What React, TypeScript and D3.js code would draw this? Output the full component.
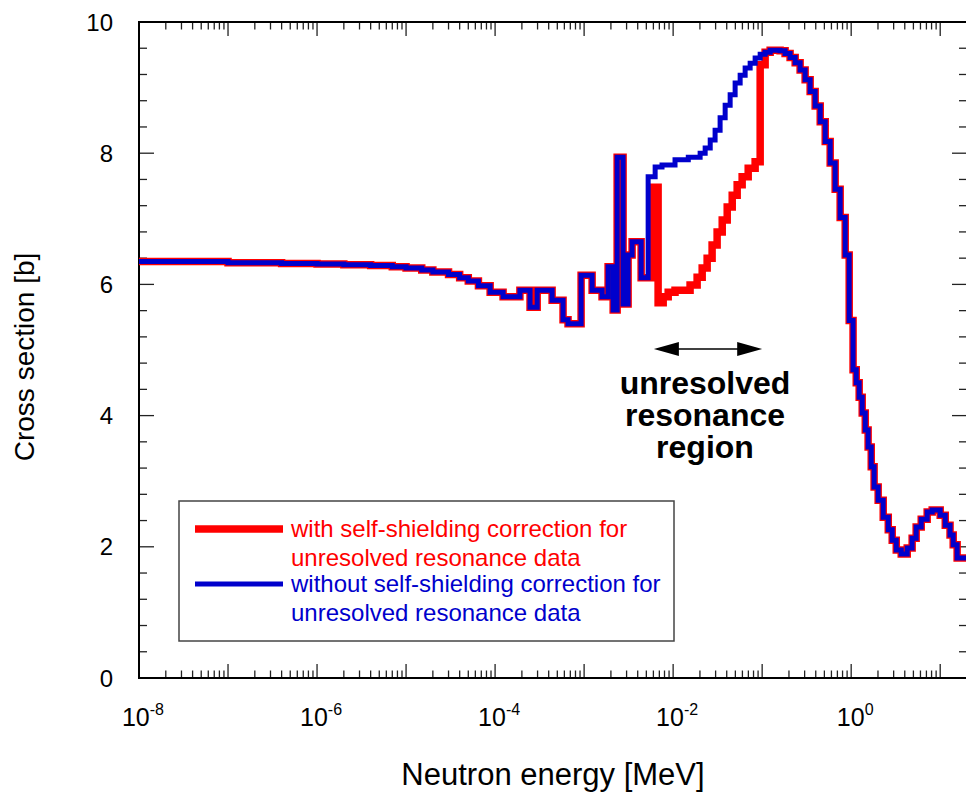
import React from "react";
import * as d3 from "d3";

// ---- data (energies in MeV, cross sections in barns); each value holds from its energy to the next ----
const energyLow = [1e-8, 1e-7, 4e-7, 1e-6, 2e-6, 4e-6, 7e-6, 1e-5, 1.5e-5, 2e-5, 3e-5, 4e-5, 5e-5, 6.5e-5, 8.8e-5, 1.23e-4, 1.9e-4, 2.47e-4, 2.97e-4, 4.37e-4, 5.8e-4, 6.6e-4, 9.25e-4, 1.23e-3, 1.59e-3, 1.86e-3, 2.12e-3, 2.35e-3, 2.74e-3, 3.12e-3, 3.46e-3, 4.37e-3];
const xsLow = [6.35, 6.33, 6.32, 6.31, 6.30, 6.29, 6.27, 6.25, 6.22, 6.19, 6.15, 6.10, 6.05, 5.98, 5.88, 5.81, 5.91, 5.65, 5.91, 5.76, 5.46, 5.40, 6.14, 5.91, 5.81, 6.27, 5.61, 7.94, 5.70, 6.45, 6.65, 6.10];

const energyUrrBlue = [5.24e-3, 6.28e-3, 7.5e-3, 1.05e-2, 1.48e-2, 2.01e-2, 2.29e-2, 2.61e-2, 2.96e-2, 3.37e-2, 3.84e-2, 4.37e-2, 4.97e-2, 5.66e-2, 6.44e-2, 7.33e-2, 8.34e-2, 9.5e-2];
const xsUrrBlue = [7.64, 7.79, 7.82, 7.90, 7.94, 8.00, 8.08, 8.20, 8.35, 8.54, 8.73, 8.89, 9.07, 9.19, 9.30, 9.37, 9.45, 9.51];

const energyUrrRed = [5.95e-3, 6.78e-3, 7.73e-3, 8.8e-3, 1.05e-2, 1.55e-2, 1.86e-2, 2.12e-2, 2.41e-2, 2.74e-2, 3.12e-2, 3.56e-2, 4.05e-2, 4.61e-2, 5.24e-2, 5.96e-2, 6.97e-2, 8.34e-2, 9.5e-2];
const xsUrrRed = [7.48, 5.72, 5.81, 5.88, 5.91, 5.99, 6.11, 6.25, 6.40, 6.60, 6.80, 6.98, 7.18, 7.36, 7.52, 7.64, 7.77, 7.87, 9.35];

const energyHigh = [0.108, 0.123, 0.14, 0.159, 0.181, 0.206, 0.235, 0.267, 0.304, 0.346, 0.394, 0.449, 0.511, 0.581, 0.661, 0.752, 0.857, 0.95, 1.05, 1.14, 1.23, 1.33, 1.44, 1.55, 1.68, 1.81, 2.01, 2.29, 2.61, 2.89, 3.21, 3.65, 4.26, 4.84, 5.37, 6.12, 7.14, 8.13, 10, 11.4, 12.9, 14.0, 15.5];
const xsHigh = [9.54, 9.57, 9.57, 9.56, 9.52, 9.46, 9.38, 9.27, 9.12, 8.94, 8.72, 8.48, 8.18, 7.85, 7.45, 7.02, 6.45, 5.45, 4.70, 4.50, 4.28, 4.04, 3.78, 3.52, 3.22, 2.91, 2.71, 2.45, 2.26, 2.10, 1.95, 1.89, 1.98, 2.13, 2.30, 2.42, 2.53, 2.56, 2.48, 2.33, 2.18, 2.03, 1.83];

const energyMax = 20;

const yTickValues = [0, 2, 4, 6, 8, 10];
const xLabelExponents = [-8, -6, -4, -2, 0];

const legendLabels = [
  ["with self-shielding correction for", "unresolved resonance data"],
  ["without self-shielding correction for", "unresolved resonance data"],
];
const annotationLines = ["unresolved", "resonance", "region"];
const urrBounds = [6.0e-3, 0.1];

const W = 966;
const H = 793;
const FONT = "'Liberation Sans', Arial, Helvetica, sans-serif";
const RED = "#ff0000";
const BLUE = "#0000cc";

type Pt = { e: number; v: number };

function buildSeries(parts: [number[], number[]][]): Pt[] {
  const pts: Pt[] = [];
  parts.forEach(([es, vs]) => es.forEach((e, i) => pts.push({ e, v: vs[i] })));
  pts.push({ e: energyMax, v: pts[pts.length - 1].v });
  return pts;
}

export default function App() {
  const x = d3.scaleLog().domain([1e-8, energyMax]).range([139, 967]);
  const y = d3.scaleLinear().domain([0, 10]).range([678, 22]);

  const red = buildSeries([[energyLow, xsLow], [energyUrrRed, xsUrrRed], [energyHigh, xsHigh]]);
  const blue = buildSeries([[energyLow, xsLow], [energyUrrBlue, xsUrrBlue], [energyHigh, xsHigh]]);

  const line = d3
    .line<Pt>()
    .x((d) => x(d.e))
    .y((d) => y(d.v))
    .curve(d3.curveStepAfter);

  const [x0, x1] = x.range();
  const [yb, yt] = y.range();

  // log ticks
  const xTicks: { v: number; major: boolean }[] = [];
  for (let k = -8; k <= 1; k++) {
    for (let i = 1; i <= 9; i++) {
      const v = i * Math.pow(10, k);
      if (v >= 1e-8 && v <= energyMax) xTicks.push({ v, major: i === 1 });
    }
  }
  const yTicks: { v: number; major: boolean }[] = [];
  for (let j = 0; j <= 25; j++) {
    const v = j * 0.4;
    yTicks.push({ v, major: j % 5 === 0 });
  }

  const arrowY = 349;
  const ax0 = x(urrBounds[0]) + 0.5;
  const ax1 = x(urrBounds[1]);

  return (
    <svg
      width={W}
      height={H}
      style={{ position: "absolute", left: 0, top: 0, background: "#fff" }}
      fontFamily={FONT}
    >
      <rect x={0} y={0} width={W} height={H} fill="#fff" />

      {/* ticks */}
      <g stroke="#222" strokeWidth={1.3}>
        {xTicks.map((t, i) => {
          const px = x(t.v);
          const len = t.major ? 14 : 7.5;
          return (
            <g key={"xt" + i}>
              <line x1={px} x2={px} y1={yb} y2={yb - len} />
              <line x1={px} x2={px} y1={yt} y2={yt + len} />
            </g>
          );
        })}
        {yTicks.map((t, i) => {
          const py = y(t.v);
          const len = t.major ? 15 : 8;
          return (
            <g key={"yt" + i}>
              <line x1={x0} x2={x0 + len} y1={py} y2={py} />
              <line x1={x1} x2={x1 - len} y1={py} y2={py} />
            </g>
          );
        })}
      </g>

      {/* frame */}
      <rect x={x0} y={yt} width={x1 - x0} height={yb - yt} fill="none" stroke="#000" strokeWidth={2} />

      {/* y tick labels */}
      {yTickValues.map((v) => (
        <text key={"yl" + v} x={113} y={y(v)} dy="0.36em" textAnchor="end" fontSize={24} fill="#000">
          {v}
        </text>
      ))}

      {/* x tick labels */}
      {xLabelExponents.map((k) => (
        <text key={"xl" + k} x={x(Math.pow(10, k)) + 4} y={726} textAnchor="middle" fontSize={25} fill="#000">
          10
          <tspan dy={-11} fontSize={16}>
            {String(k)}
          </tspan>
        </text>
      ))}

      {/* axis titles */}
      <text x={553} y={785} textAnchor="middle" fontSize={31} fill="#000">
        Neutron energy [MeV]
      </text>
      <text
        transform={`translate(34, ${357}) rotate(-90)`}
        textAnchor="middle"
        fontSize={28}
        fill="#000"
      >
        Cross section [b]
      </text>

      {/* data */}
      <path d={line(red) || ""} fill="none" stroke={RED} strokeWidth={7.5} strokeLinejoin="miter" />
      <path d={line(blue) || ""} fill="none" stroke={BLUE} strokeWidth={5} strokeLinejoin="miter" />

      {/* annotation arrow */}
      <line x1={ax0 + 22} x2={ax1 - 22} y1={arrowY} y2={arrowY} stroke="#000" strokeWidth={1.5} />
      <path d={`M${ax0},${arrowY} L${ax0 + 25},${arrowY - 7} L${ax0 + 25},${arrowY + 7} Z`} fill="#000" />
      <path d={`M${ax1},${arrowY} L${ax1 - 25},${arrowY - 7} L${ax1 - 25},${arrowY + 7} Z`} fill="#000" />
      {annotationLines.map((s, i) => (
        <text key={s} x={705} y={394 + i * 32} textAnchor="middle" fontSize={32} fontWeight="bold" fill="#000">
          {s}
        </text>
      ))}

      {/* legend */}
      <rect x={179} y={501} width={495} height={140} fill="#fff" stroke="#444" strokeWidth={1.5} />
      <line x1={195} x2={283} y1={529} y2={529} stroke={RED} strokeWidth={7.5} />
      <line x1={195} x2={283} y1={584} y2={584} stroke={BLUE} strokeWidth={5} />
      {legendLabels.map((lines, i) =>
        lines.map((s, j) => (
          <text
            key={"lg" + i + j}
            x={291}
            y={(i === 0 ? 537 : 592) + j * 29}
            fontSize={24}
            fill={i === 0 ? RED : BLUE}
          >
            {s}
          </text>
        ))
      )}
    </svg>
  );
}
